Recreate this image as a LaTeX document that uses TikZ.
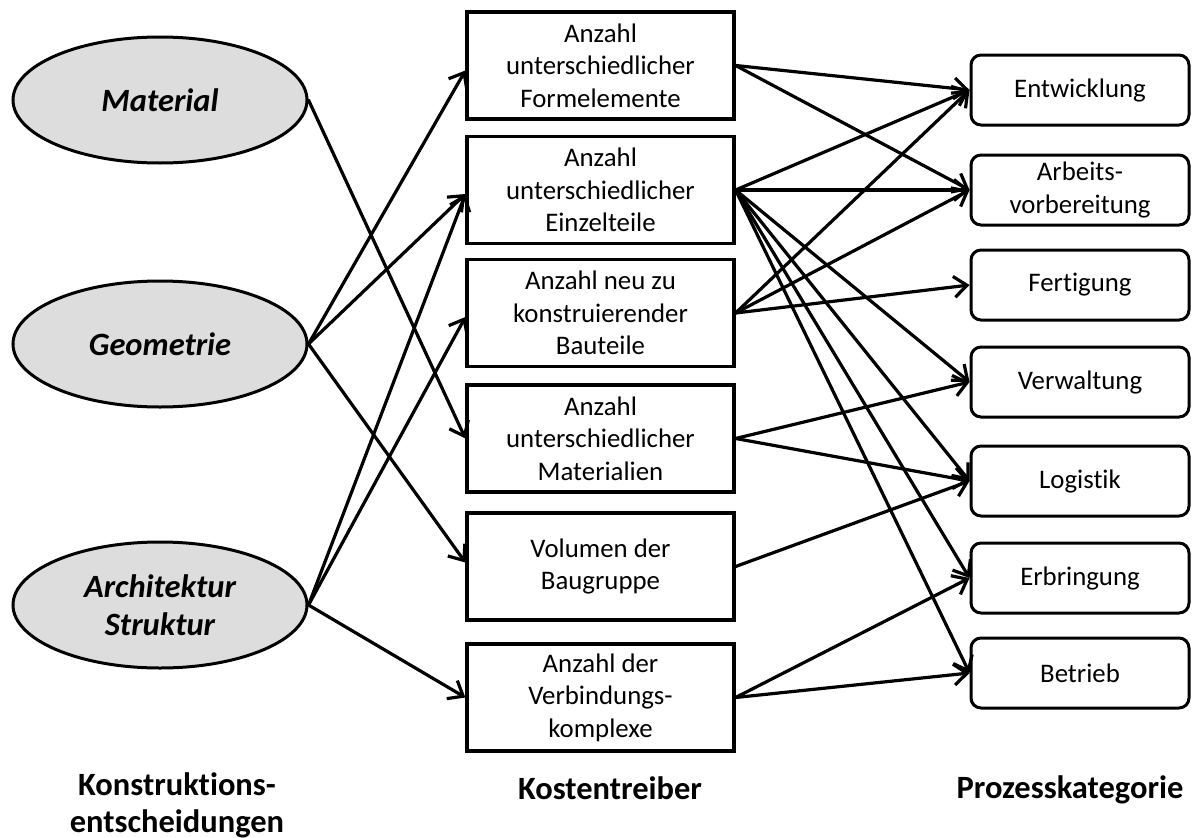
\documentclass[tikz,border=0pt]{standalone}
\usepackage{fontspec}
\setmainfont{Carlito}[Ligatures=NoCommon]
\usetikzlibrary{arrows.meta,shapes.geometric}
\definecolor{ellfill}{RGB}{221,221,221}
\begin{document}
\begin{tikzpicture}[x=1pt,y=-1pt,
  decision/.style={ellipse, draw, line width=3pt, fill=ellfill, minimum width=294pt, minimum height=126pt, inner sep=0pt, align=center, font=\fontsize{32.5}{38}\selectfont\bfseries\itshape},
  driver/.style={rectangle, draw, line width=3.2pt, minimum width=267pt, minimum height=107pt, inner sep=0pt, align=center, font=\fontsize{26.8}{32.5}\selectfont},
  process/.style={rectangle, rounded corners=10pt, draw, line width=3pt, minimum width=218pt, minimum height=70pt, inner sep=0pt, align=center, font=\fontsize{26.8}{32.5}\selectfont},
  heading/.style={align=center, inner sep=0pt, font=\fontsize{32.5}{37}\selectfont\bfseries},
  conn/.style={line width=3.2pt, line cap=round, -{Straight Barb[length=13pt,width=21pt]}}
]
\useasboundingbox (0,0) rectangle (1192,838);

% decisions
\node[decision] (mat) at (160,100) {Material};
\node[decision] (geo) at (160,344) {Geometrie};
\node[decision] (arc) at (160,605) {Architektur\\Struktur};

% cost drivers
\node[driver] (b1) at (600.5,65.5) {Anzahl\\unterschiedlicher\\Formelemente};
\node[driver] (b2) at (600.5,190) {Anzahl\\unterschiedlicher\\Einzelteile};
\node[driver] (b3) at (600.5,313) {Anzahl neu zu\\konstruierender\\Bauteile};
\node[driver] (b4) at (600.5,438.5) {Anzahl\\unterschiedlicher\\Materialien};
\node[driver] (b5) at (600.5,566.5) {Volumen der\\Baugruppe};
\node[driver] (b6) at (600.5,697.5) {Anzahl der\\Verbindungs-\\komplexe};

% process categories
\node[process] (ent) at (1080,90) {Entwicklung};
\node[process] (arb) at (1080,190) {Arbeits-\\vorbereitung};
\node[process] (fer) at (1080,285) {Fertigung};
\node[process] (ver) at (1080,382) {Verwaltung};
\node[process] (log) at (1080,481) {Logistik};
\node[process] (erb) at (1080,578) {Erbringung};
\node[process] (bet) at (1080,673) {Betrieb};

% headings
\node[heading] (h1) at (177,805) {Konstruktions-\\entscheidungen};
\node[heading] (h2) at (610,788) {Kostentreiber};
\node[heading] (h3) at (1070,790) {Prozesskategorie};

% decisions -> drivers
\draw[conn] (mat.east) -- (b4.west);
\draw[conn] (geo.east) -- ([yshift=-5pt]b1.west);
\draw[conn] (geo.east) -- ([yshift=-4pt]b2.west);
\draw[conn] (geo.east) -- ([yshift=4pt]b5.west);
\draw[conn] (arc.east) -- ([yshift=-4pt]b2.west);
\draw[conn] (arc.east) -- ([yshift=-4pt]b3.west);
\draw[conn] (arc.east) -- (b6.west);

% drivers -> processes
\draw[conn] (b1.east) -- (ent.west);
\draw[conn] (b1.east) -- (arb.west);
\draw[conn] (b2.east) -- (ent.west);
\draw[conn] (b2.east) -- (arb.west);
\draw[conn] (b2.east) -- (ver.west);
\draw[conn] (b2.east) -- (log.west);
\draw[conn] (b2.east) -- (erb.west);
\draw[conn] (b2.east) -- (bet.west);
\draw[conn] (b3.east) -- (ent.west);
\draw[conn] (b3.east) -- (arb.west);
\draw[conn] (b3.east) -- (fer.west);
\draw[conn] (b4.east) -- (ver.west);
\draw[conn] (b4.east) -- (log.west);
\draw[conn] (b5.east) -- (log.west);
\draw[conn] (b6.east) -- (erb.west);
\draw[conn] (b6.east) -- (bet.west);
\end{tikzpicture}
\end{document}
